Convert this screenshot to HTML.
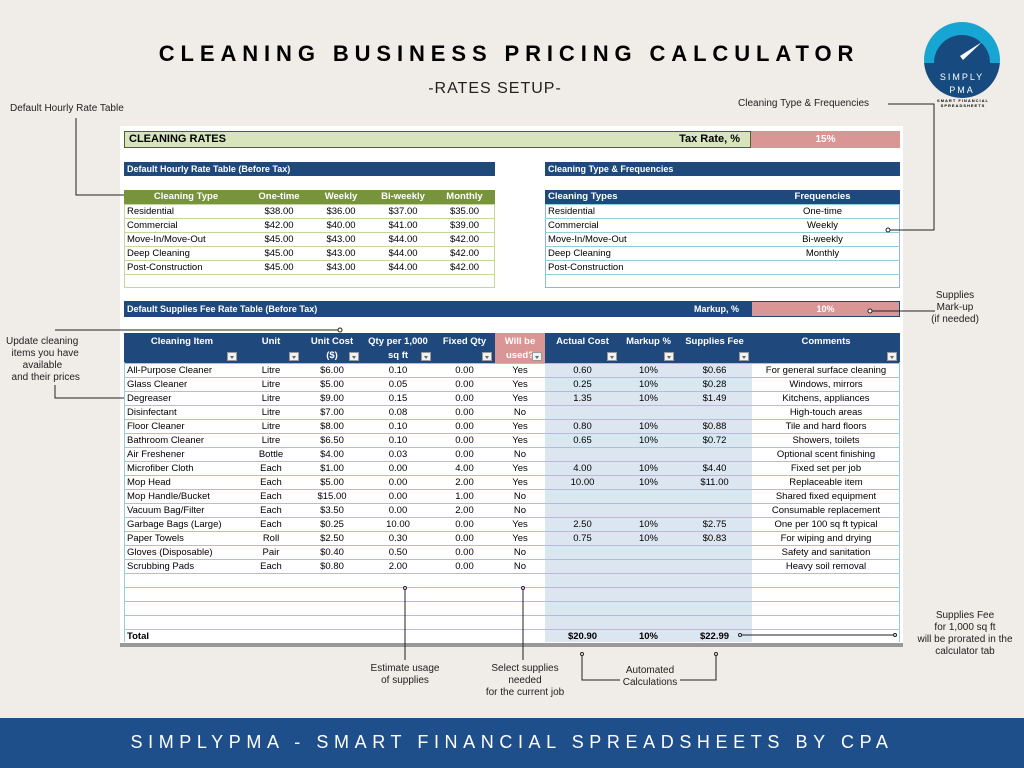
<!DOCTYPE html>
<html><head><meta charset="utf-8"><style>
*{margin:0;padding:0;box-sizing:border-box}
body{width:1024px;height:768px;background:#f0ece8;position:relative;overflow:hidden;font-family:"Liberation Sans",sans-serif;color:#000}
.a{position:absolute}
table{border-collapse:collapse;table-layout:fixed;position:absolute;font-size:9.5px}
td{height:14px;padding:0 3px;white-space:nowrap;overflow:hidden;line-height:13px}
.c{text-align:center}
.hr td{border-bottom:1px solid #c4d79b}
.st td{border-bottom:1px solid #92cddc}
.dd{display:inline-block;width:10px;height:9px;background:#f2f2f2;border:1px solid #999;position:absolute;bottom:2px;right:3px}
.dd:after{content:"";position:absolute;left:2px;top:3px;border-left:2.5px solid transparent;border-right:2.5px solid transparent;border-top:3px solid #666}
.sh td{position:relative;color:#fff;font-weight:bold;text-align:center;vertical-align:top;height:29px;padding-top:2px;line-height:14px}
.ann{font-size:10px;color:#222;text-align:center;line-height:12px}
</style></head><body>
<div class="a" style="left:0;top:41px;width:1018px;text-align:center;font-size:22px;font-weight:bold;letter-spacing:5.9px">CLEANING BUSINESS PRICING CALCULATOR</div>
<div class="a" style="left:0;top:80px;width:990px;text-align:center;font-size:16px;letter-spacing:1px;color:#222">-RATES SETUP-</div>
<svg class="a" style="left:920px;top:18px" width="90" height="90">
<clipPath id="cp"><circle cx="42" cy="42" r="38"/></clipPath>
<g clip-path="url(#cp)"><rect x="0" y="0" width="90" height="45" fill="#17a6d3"/><rect x="0" y="45" width="90" height="45" fill="#174a7e"/><path d="M14 45 A28 28 0 0 1 70 45 Z" fill="#174a7e"/></g>
<path d="M62 24 L40 38 L43 42 Z" fill="#fff"/>
<text x="42" y="62" font-size="9" fill="#fff" text-anchor="middle" letter-spacing="2" font-family="Liberation Sans">SIMPLY</text>
<text x="42" y="75" font-size="9" fill="#fff" text-anchor="middle" letter-spacing="2" font-family="Liberation Sans">PMA</text>
</svg>
<div class="a" style="left:930px;top:98px;width:66px;text-align:center;font-size:4px;letter-spacing:1px;line-height:5px;font-weight:bold">SMART FINANCIAL SPREADSHEETS</div>

<div class="a" style="left:120px;top:126px;width:783px;height:520px;background:#fff"></div>
<div class="a" style="left:124px;top:131px;width:627px;height:17px;background:#d8e4bc;border:1px solid #4f6228;font-weight:bold;font-size:11px;line-height:15px;padding-left:4px">CLEANING RATES<span style="position:absolute;right:10px">Tax Rate, %</span></div>
<div class="a" style="left:751px;top:131px;width:149px;height:17px;background:#da9694;color:#fff;font-weight:bold;font-size:10px;line-height:17px;text-align:center">15%</div>

<div class="a" style="left:124px;top:162px;width:371px;height:14px;background:#1f497d;color:#fff;font-weight:bold;font-size:9px;line-height:14px;padding-left:3px">Default Hourly Rate Table (Before Tax)</div>
<div class="a" style="left:545px;top:162px;width:355px;height:14px;background:#1f497d;color:#fff;font-weight:bold;font-size:9px;line-height:14px;padding-left:3px">Cleaning Type &amp; Frequencies</div>

<div class="a" style="left:124px;top:190px;width:371px;height:98px;border:1px solid #c4d79b"></div>
<table class="hr" style="left:124px;top:190px;width:371px">
<col style="width:124px"><col style="width:62px"><col style="width:62px"><col style="width:62px"><col style="width:61px">
<tr style="background:#77933c;color:#fff;font-weight:bold"><td class="c">Cleaning Type</td><td class="c">One-time</td><td class="c">Weekly</td><td class="c">Bi-weekly</td><td class="c">Monthly</td></tr>
<tr><td>Residential</td><td class="c">$38.00</td><td class="c">$36.00</td><td class="c">$37.00</td><td class="c">$35.00</td></tr>
<tr><td>Commercial</td><td class="c">$42.00</td><td class="c">$40.00</td><td class="c">$41.00</td><td class="c">$39.00</td></tr>
<tr><td>Move-In/Move-Out</td><td class="c">$45.00</td><td class="c">$43.00</td><td class="c">$44.00</td><td class="c">$42.00</td></tr>
<tr><td>Deep Cleaning</td><td class="c">$45.00</td><td class="c">$43.00</td><td class="c">$44.00</td><td class="c">$42.00</td></tr>
<tr><td>Post-Construction</td><td class="c">$45.00</td><td class="c">$43.00</td><td class="c">$44.00</td><td class="c">$42.00</td></tr>
</table>

<div class="a" style="left:545px;top:190px;width:355px;height:98px;border:1px solid #8db4e2"></div>
<table style="left:545px;top:190px;width:355px" class="st">
<col style="width:200px"><col style="width:155px">
<tr style="background:#1f497d;color:#fff;font-weight:bold"><td>Cleaning Types</td><td class="c">Frequencies</td></tr>
<tr><td>Residential</td><td class="c">One-time</td></tr>
<tr><td>Commercial</td><td class="c">Weekly</td></tr>
<tr><td>Move-In/Move-Out</td><td class="c">Bi-weekly</td></tr>
<tr><td>Deep Cleaning</td><td class="c">Monthly</td></tr>
<tr><td>Post-Construction</td><td></td></tr>
</table>

<div class="a" style="left:124px;top:301px;width:627px;height:16px;background:#1f497d;color:#fff;font-weight:bold;font-size:9px;line-height:16px;padding-left:3px">Default Supplies Fee Rate Table (Before Tax)<span style="position:absolute;right:12px">Markup, %</span></div>
<div class="a" style="left:751px;top:301px;width:149px;height:16px;background:#da9694;border:1px solid #1f497d;color:#fff;font-weight:bold;font-size:9px;line-height:14px;text-align:center">10%</div>

<div class="a" style="left:545px;top:362px;width:207px;height:280px;background:#dce6f1"></div>
<table class="st" style="left:124px;top:333px;width:776px">
<col style="width:116px"><col style="width:62px"><col style="width:60px"><col style="width:72px"><col style="width:61px"><col style="width:50px"><col style="width:75px"><col style="width:57px"><col style="width:75px"><col style="width:148px">
<tr class="sh" style="background:#1f497d"><td>Cleaning Item<span class="dd"></span></td><td>Unit<span class="dd"></span></td><td>Unit Cost<br>($)<span class="dd"></span></td><td>Qty per 1,000<br>sq ft<span class="dd"></span></td><td>Fixed Qty<span class="dd"></span></td><td style="background:#da9694">Will be<br>used?<span class="dd"></span></td><td>Actual Cost<span class="dd"></span></td><td>Markup %<span class="dd"></span></td><td>Supplies Fee<span class="dd"></span></td><td>Comments<span class="dd"></span></td></tr>
<tr><td>All-Purpose Cleaner</td><td class="c">Litre</td><td class="c">$6.00</td><td class="c">0.10</td><td class="c">0.00</td><td class="c">Yes</td><td class="c">0.60</td><td class="c">10%</td><td class="c">$0.66</td><td class="c">For general surface cleaning</td></tr>
<tr><td>Glass Cleaner</td><td class="c">Litre</td><td class="c">$5.00</td><td class="c">0.05</td><td class="c">0.00</td><td class="c">Yes</td><td class="c">0.25</td><td class="c">10%</td><td class="c">$0.28</td><td class="c">Windows, mirrors</td></tr>
<tr><td>Degreaser</td><td class="c">Litre</td><td class="c">$9.00</td><td class="c">0.15</td><td class="c">0.00</td><td class="c">Yes</td><td class="c">1.35</td><td class="c">10%</td><td class="c">$1.49</td><td class="c">Kitchens, appliances</td></tr>
<tr><td>Disinfectant</td><td class="c">Litre</td><td class="c">$7.00</td><td class="c">0.08</td><td class="c">0.00</td><td class="c">No</td><td></td><td></td><td></td><td class="c">High-touch areas</td></tr>
<tr><td>Floor Cleaner</td><td class="c">Litre</td><td class="c">$8.00</td><td class="c">0.10</td><td class="c">0.00</td><td class="c">Yes</td><td class="c">0.80</td><td class="c">10%</td><td class="c">$0.88</td><td class="c">Tile and hard floors</td></tr>
<tr><td>Bathroom Cleaner</td><td class="c">Litre</td><td class="c">$6.50</td><td class="c">0.10</td><td class="c">0.00</td><td class="c">Yes</td><td class="c">0.65</td><td class="c">10%</td><td class="c">$0.72</td><td class="c">Showers, toilets</td></tr>
<tr><td>Air Freshener</td><td class="c">Bottle</td><td class="c">$4.00</td><td class="c">0.03</td><td class="c">0.00</td><td class="c">No</td><td></td><td></td><td></td><td class="c">Optional scent finishing</td></tr>
<tr><td>Microfiber Cloth</td><td class="c">Each</td><td class="c">$1.00</td><td class="c">0.00</td><td class="c">4.00</td><td class="c">Yes</td><td class="c">4.00</td><td class="c">10%</td><td class="c">$4.40</td><td class="c">Fixed set per job</td></tr>
<tr><td>Mop Head</td><td class="c">Each</td><td class="c">$5.00</td><td class="c">0.00</td><td class="c">2.00</td><td class="c">Yes</td><td class="c">10.00</td><td class="c">10%</td><td class="c">$11.00</td><td class="c">Replaceable item</td></tr>
<tr><td>Mop Handle/Bucket</td><td class="c">Each</td><td class="c">$15.00</td><td class="c">0.00</td><td class="c">1.00</td><td class="c">No</td><td></td><td></td><td></td><td class="c">Shared fixed equipment</td></tr>
<tr><td>Vacuum Bag/Filter</td><td class="c">Each</td><td class="c">$3.50</td><td class="c">0.00</td><td class="c">2.00</td><td class="c">No</td><td></td><td></td><td></td><td class="c">Consumable replacement</td></tr>
<tr><td>Garbage Bags (Large)</td><td class="c">Each</td><td class="c">$0.25</td><td class="c">10.00</td><td class="c">0.00</td><td class="c">Yes</td><td class="c">2.50</td><td class="c">10%</td><td class="c">$2.75</td><td class="c">One per 100 sq ft typical</td></tr>
<tr><td>Paper Towels</td><td class="c">Roll</td><td class="c">$2.50</td><td class="c">0.30</td><td class="c">0.00</td><td class="c">Yes</td><td class="c">0.75</td><td class="c">10%</td><td class="c">$0.83</td><td class="c">For wiping and drying</td></tr>
<tr><td>Gloves (Disposable)</td><td class="c">Pair</td><td class="c">$0.40</td><td class="c">0.50</td><td class="c">0.00</td><td class="c">No</td><td></td><td></td><td></td><td class="c">Safety and sanitation</td></tr>
<tr><td>Scrubbing Pads</td><td class="c">Each</td><td class="c">$0.80</td><td class="c">2.00</td><td class="c">0.00</td><td class="c">No</td><td></td><td></td><td></td><td class="c">Heavy soil removal</td></tr>
<tr><td></td><td></td><td></td><td></td><td></td><td></td><td></td><td></td><td></td><td></td></tr>
<tr><td></td><td></td><td></td><td></td><td></td><td></td><td></td><td></td><td></td><td></td></tr>
<tr><td></td><td></td><td></td><td></td><td></td><td></td><td></td><td></td><td></td><td></td></tr>
<tr><td></td><td></td><td></td><td></td><td></td><td></td><td></td><td></td><td></td><td></td></tr>
<tr style="font-weight:bold"><td>Total</td><td></td><td></td><td></td><td></td><td></td><td class="c">$20.90</td><td class="c">10%</td><td class="c">$22.99</td><td></td></tr>
</table>
<div class="a" style="left:124px;top:362px;width:776px;height:280px;border-left:1px solid #92cddc;border-right:1px solid #92cddc"></div>
<div class="a" style="left:120px;top:643px;width:783px;height:4px;background:#999"></div>

<svg class="a" style="left:0;top:0" width="1024" height="768" fill="none" stroke="#222" stroke-width="1">
<polyline points="76,118 76,195 124,195"/>
<polyline points="888,104 934,104 934,230 888,230"/>
<polyline points="870,311 935,311"/>
<polyline points="55,330 340,330"/>
<polyline points="55,385 55,398 124,398"/>
<line x1="405" y1="588" x2="405" y2="660"/>
<line x1="523" y1="588" x2="523" y2="660"/>
<polyline points="582,654 582,680 620,680"/>
<polyline points="716,654 716,680 680,680"/>
<line x1="740" y1="635" x2="895" y2="635"/>
<g fill="#fff"><circle cx="340" cy="330" r="2"/><circle cx="888" cy="230" r="2"/><circle cx="870" cy="311" r="2"/><circle cx="405" cy="588" r="1.5"/><circle cx="523" cy="588" r="1.5"/><circle cx="582" cy="654" r="1.5"/><circle cx="716" cy="654" r="1.5"/><circle cx="740" cy="635" r="1.5"/><circle cx="895" cy="635" r="1.5"/></g>
</svg>

<div class="a ann" style="left:10px;top:103px;text-align:left">Default Hourly Rate Table</div>
<div class="a ann" style="left:738px;top:98px;text-align:left">Cleaning Type &amp; Frequencies</div>
<div class="a ann" style="left:920px;top:290px;width:70px">Supplies<br>Mark-up<br>(if needed)</div>
<div class="a ann" style="left:6px;top:336px;width:100px;text-align:left">Update cleaning<br>&nbsp;&nbsp;items you have<br>&nbsp;&nbsp;&nbsp;&nbsp;&nbsp;&nbsp;available<br>&nbsp;&nbsp;and their prices</div>
<div class="a ann" style="left:360px;top:663px;width:90px">Estimate usage<br>of supplies</div>
<div class="a ann" style="left:470px;top:663px;width:110px">Select supplies<br>needed<br>for the current job</div>
<div class="a ann" style="left:610px;top:665px;width:80px">Automated<br>Calculations</div>
<div class="a ann" style="left:905px;top:610px;width:120px">Supplies Fee<br>for 1,000 sq ft<br>will be prorated in the<br>calculator tab</div>

<div class="a" style="left:0;top:718px;width:1024px;height:50px;background:#1f4f8b;color:#fff;text-align:center;font-size:18px;line-height:48px;letter-spacing:5.6px">SIMPLYPMA - SMART FINANCIAL SPREADSHEETS BY CPA</div>
</body></html>
